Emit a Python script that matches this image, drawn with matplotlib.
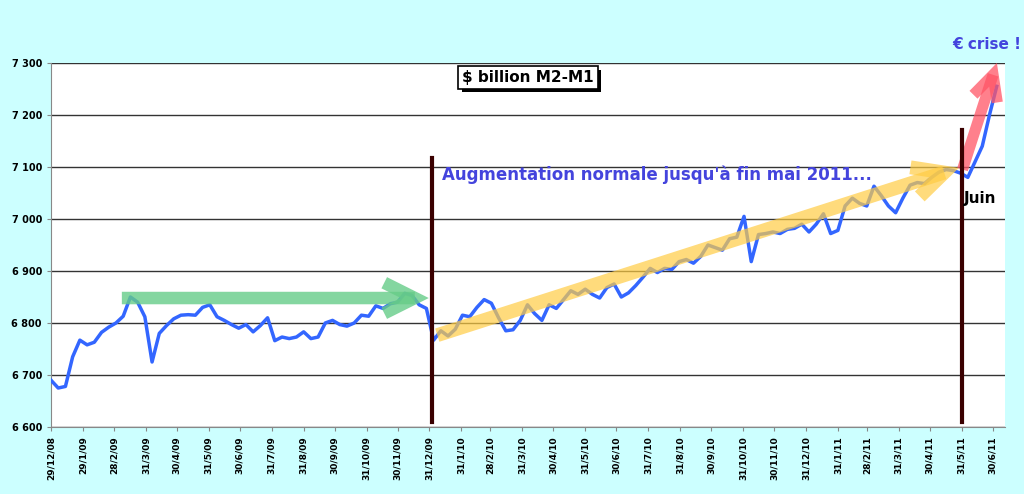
import numpy as np
import pandas as pd
import matplotlib
matplotlib.use("Agg")
import matplotlib.pyplot as plt
import matplotlib.dates as mdates
import matplotlib.patheffects as pe

# Données hebdomadaires M2-M1 (milliards $)
dates = pd.date_range("2008-12-29", periods=132, freq="7D")
values = [6690, 6675, 6678, 6735, 6767, 6758, 6763, 6782, 6792, 6800,
          6813, 6850, 6840, 6812, 6725, 6780, 6795, 6808, 6815, 6816,
          6815, 6830, 6835, 6812, 6805, 6797, 6790, 6797, 6783, 6795,
          6810, 6766, 6773, 6770, 6773, 6783, 6770, 6773, 6800, 6805,
          6797, 6794, 6800, 6815, 6813, 6833, 6828, 6837, 6840, 6857,
          6853, 6835, 6828, 6767,
          6785, 6775, 6788, 6815, 6812, 6830, 6845, 6838, 6810, 6785,
          6787, 6805, 6835, 6818, 6805, 6835, 6828, 6845, 6862, 6855,
          6865, 6855, 6848, 6868, 6875, 6850, 6858, 6872, 6888, 6905,
          6897, 6905, 6903, 6918, 6922, 6915, 6928, 6950, 6945, 6940,
          6962, 6965, 7005, 6918, 6970, 6972, 6975, 6972, 6980, 6982,
          6990, 6975, 6990, 7010, 6972, 6978, 7025, 7040, 7030, 7025,
          7063, 7045, 7025, 7012, 7040, 7065, 7070, 7068, 7080, 7090,
          7095, 7093, 7088, 7080,
          7110, 7140, 7200, 7255]
dates = dates[:len(values)]

tick_dates = ["2008-12-29", "2009-01-29", "2009-02-28", "2009-03-31", "2009-04-30",
              "2009-05-31", "2009-06-30", "2009-07-31", "2009-08-31", "2009-09-30",
              "2009-10-31", "2009-11-30", "2009-12-31", "2010-01-31", "2010-02-28",
              "2010-03-31", "2010-04-30", "2010-05-31", "2010-06-30", "2010-07-31",
              "2010-08-31", "2010-09-30", "2010-10-31", "2010-11-30", "2010-12-31",
              "2011-01-31", "2011-02-28", "2011-03-31", "2011-04-30", "2011-05-31",
              "2011-06-30"]
tick_pos = pd.to_datetime(tick_dates)
tick_labels = [f"{d.day}/{d.month}/{d.strftime('%y')}" for d in tick_pos]

bg = "#ccffff"
fig = plt.figure(figsize=(10.24, 4.94), dpi=100, facecolor=bg)
ax = fig.add_axes([0.0498, 0.1356, 0.9316, 0.737])
ax.set_facecolor("white")

ax.plot(dates, values, color="#3366ff", lw=2.5, zorder=3)
ax.set_ylim(6600, 7300)
ax.set_xlim(pd.Timestamp("2008-12-29"), pd.Timestamp("2011-07-12"))
ax.set_yticks(range(6600, 7301, 100))
ax.set_yticklabels([f"{v//1000} {v%1000:03d}" for v in range(6600, 7301, 100)],
                   fontsize=7, fontweight="bold")
ax.set_xticks(tick_pos)
ax.set_xticklabels(tick_labels, rotation=90, fontsize=6.5, fontweight="bold")
ax.grid(axis="y", color="#333333", lw=1)
ax.set_axisbelow(True)
for s in ["top", "right"]:
    ax.spines[s].set_visible(False)
ax.spines["left"].set_color("#888888")
ax.spines["bottom"].set_color("#888888")
ax.tick_params(length=3, color="#888888")

d = mdates.date2num
# flèches
def fleche(x0, y0, x1, y1, col, a, lw, ms):
    ax.annotate("", xy=(x1, y1), xytext=(x0, y0),
                arrowprops=dict(arrowstyle="->", lw=lw, color=col, alpha=a,
                                mutation_scale=ms, capstyle="butt", joinstyle="miter"),
                zorder=4, annotation_clip=False)

fleche(d(pd.Timestamp("2009-03-05")), 6848, d(pd.Timestamp("2010-01-02")), 6848,
       "#66cc88", 0.8, 9, 55)
fleche(d(pd.Timestamp("2010-01-05")), 6775, d(pd.Timestamp("2011-05-31")), 7100,
       "#ffcc44", 0.7, 10, 55)
fleche(d(pd.Timestamp("2011-05-31")), 7090, d(pd.Timestamp("2011-07-05")), 7305,
       "#ff5566", 0.75, 8, 45)

for vd, top in [("2010-01-02", 7118), ("2011-05-31", 7172)]:
    ax.plot([pd.Timestamp(vd)] * 2, [6610, top], color="#3a0000", lw=3, zorder=5)

titre = ax.text(0.5, 0.96, "$ billion M2-M1", transform=ax.transAxes, ha="center",
                va="center", fontsize=11, fontweight="bold", zorder=7,
                bbox=dict(boxstyle="square,pad=0.25", fc="white", ec="black", lw=1.2))
titre.get_bbox_patch().set_path_effects(
    [pe.SimplePatchShadow(offset=(2.5, -2.5), shadow_rgbFace="black", alpha=1), pe.Normal()])
ax.text(d(pd.Timestamp("2010-01-12")), 7075, "Augmentation normale jusqu'à fin mai 2011...",
        color="#4444dd", fontsize=12, fontweight="bold", zorder=6)
ax.text(d(pd.Timestamp("2011-06-02")), 7030, "Juin", color="black",
        fontsize=11, fontweight="bold", zorder=6)
fig.text(0.93, 0.9, "€ crise !", color="#4444dd", fontsize=11, fontweight="bold")

fig.savefig("out.png", dpi=100, facecolor=bg)
